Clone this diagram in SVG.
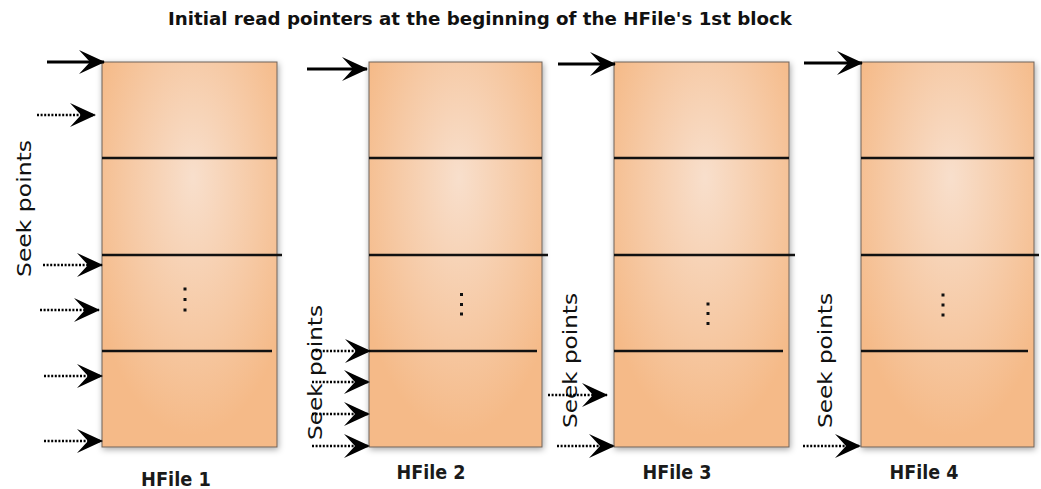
<svg xmlns="http://www.w3.org/2000/svg" width="1041" height="489" viewBox="0 0 1041 489">
  <style>
    .title { font-family: "DejaVu Sans Condensed", "DejaVu Sans", "Liberation Sans", sans-serif; font-stretch: condensed; font-size: 18px; font-weight: bold; fill: #111; }
    .label { font-family: "DejaVu Sans", "Liberation Sans", sans-serif; font-size: 19px; font-weight: bold; fill: #1a1a1a; }
    .seek { font-family: "DejaVu Sans", "Liberation Sans", sans-serif; font-size: 19px; fill: #111; }
    .block { fill: url(#blockFill); stroke: #6f625a; stroke-width: 1; filter: url(#shadow); }
    .divider { stroke: #111; stroke-width: 2.5; fill: none; }
    .dot { fill: #111; }
    .ptr { stroke: #000; stroke-width: 3; fill: none; marker-end: url(#head); }
    .seekptr { stroke: #000; stroke-width: 2.5; stroke-dasharray: 2 1.6; fill: none; marker-end: url(#head); }
  </style>
  <defs>
    <radialGradient id="blockFill" cx="0.52" cy="0.35" r="0.62" fx="0.52" fy="0.3">
      <stop offset="0" stop-color="#f8dfcc"/>
      <stop offset="0.6" stop-color="#f6c9a4"/>
      <stop offset="1" stop-color="#f5ba88"/>
    </radialGradient>
    <filter id="shadow" x="-10%" y="-10%" width="120%" height="120%">
      <feDropShadow dx="1" dy="2" stdDeviation="3" flood-color="#000" flood-opacity="0.35"/>
    </filter>
    <marker id="head" markerUnits="userSpaceOnUse" viewBox="0 0 26 24" refX="25" refY="12" markerWidth="26" markerHeight="24" orient="auto">
      <path d="M0,0 L26,12 L0,24 L11,12 Z" fill="#000"/>
    </marker>
  </defs>

  <text class="title" x="168" y="25" textLength="624" lengthAdjust="spacingAndGlyphs">Initial read pointers at the beginning of the HFile's 1st block</text>

  <!-- HFile 1 -->
  <g id="hfile1">
    <rect class="block" x="102" y="62" width="175" height="385"/>
    <line class="divider" x1="102" y1="158" x2="277" y2="158"/>
    <line class="divider" x1="102" y1="255" x2="282" y2="255"/>
    <line class="divider" x1="102" y1="351" x2="272" y2="351"/>
    <rect class="dot" x="183.5" y="287.5" width="3" height="3"/>
    <rect class="dot" x="183.5" y="298" width="3" height="3"/>
    <rect class="dot" x="183.5" y="308.5" width="3" height="3"/>
    <text class="label" x="176" y="486" text-anchor="middle" textLength="70" lengthAdjust="spacingAndGlyphs">HFile 1</text>
    <text class="seek" transform="translate(31,277) rotate(-90)" textLength="137" lengthAdjust="spacingAndGlyphs">Seek points</text>
  </g>

  <!-- HFile 2 -->
  <g id="hfile2">
    <rect class="block" x="369" y="62" width="173" height="385"/>
    <line class="divider" x1="369" y1="158" x2="542" y2="158"/>
    <line class="divider" x1="369" y1="255" x2="548" y2="255"/>
    <line class="divider" x1="369" y1="351" x2="537" y2="351"/>
    <rect class="dot" x="460" y="293" width="3" height="3"/>
    <rect class="dot" x="460" y="303" width="3" height="3"/>
    <rect class="dot" x="460" y="312.5" width="3" height="3"/>
    <text class="label" x="431" y="479" text-anchor="middle" textLength="69" lengthAdjust="spacingAndGlyphs">HFile 2</text>
    <text class="seek" transform="translate(322,440) rotate(-90)" textLength="135" lengthAdjust="spacingAndGlyphs">Seek points</text>
  </g>

  <!-- HFile 3 -->
  <g id="hfile3">
    <rect class="block" x="614" y="62" width="175" height="385"/>
    <line class="divider" x1="614" y1="158" x2="789" y2="158"/>
    <line class="divider" x1="614" y1="255" x2="795" y2="255"/>
    <line class="divider" x1="614" y1="351" x2="783" y2="351"/>
    <rect class="dot" x="706.5" y="302.5" width="3" height="3"/>
    <rect class="dot" x="706.5" y="312" width="3" height="3"/>
    <rect class="dot" x="706.5" y="322" width="3" height="3"/>
    <text class="label" x="677" y="479" text-anchor="middle" textLength="69" lengthAdjust="spacingAndGlyphs">HFile 3</text>
    <text class="seek" transform="translate(577,428) rotate(-90)" textLength="135" lengthAdjust="spacingAndGlyphs">Seek points</text>
  </g>

  <!-- HFile 4 -->
  <g id="hfile4">
    <rect class="block" x="861" y="62" width="173" height="385"/>
    <line class="divider" x1="861" y1="158" x2="1034" y2="158"/>
    <line class="divider" x1="861" y1="255" x2="1039" y2="255"/>
    <line class="divider" x1="861" y1="351" x2="1028" y2="351"/>
    <rect class="dot" x="941.5" y="293.5" width="3" height="3"/>
    <rect class="dot" x="941.5" y="303.5" width="3" height="3"/>
    <rect class="dot" x="941.5" y="313.5" width="3" height="3"/>
    <text class="label" x="924" y="479" text-anchor="middle" textLength="69" lengthAdjust="spacingAndGlyphs">HFile 4</text>
    <text class="seek" transform="translate(832,428) rotate(-90)" textLength="135" lengthAdjust="spacingAndGlyphs">Seek points</text>
  </g>

  <!-- read pointers and seek points -->
  <g id="connectors">
    <line class="ptr" x1="47" y1="62" x2="104" y2="62"/>
    <line class="ptr" x1="307" y1="69" x2="367" y2="69"/>
    <line class="ptr" x1="558" y1="64" x2="615" y2="64"/>
    <line class="ptr" x1="804" y1="63" x2="862" y2="63"/>

    <line class="seekptr" x1="37" y1="115" x2="95" y2="115"/>
    <line class="seekptr" x1="43" y1="265" x2="102" y2="265"/>
    <line class="seekptr" x1="40" y1="310" x2="99" y2="310"/>
    <line class="seekptr" x1="44" y1="376" x2="102" y2="376"/>
    <line class="seekptr" x1="44" y1="441" x2="102" y2="441"/>

    <line class="seekptr" x1="312" y1="351" x2="370" y2="351"/>
    <line class="seekptr" x1="312" y1="382" x2="369" y2="382"/>
    <line class="seekptr" x1="312" y1="414" x2="369" y2="414"/>
    <line class="seekptr" x1="312" y1="446" x2="369" y2="446"/>

    <line class="seekptr" x1="548" y1="395" x2="607" y2="395"/>
    <line class="seekptr" x1="557" y1="446" x2="614" y2="446"/>

    <line class="seekptr" x1="803" y1="446" x2="860" y2="446"/>
  </g>
</svg>
